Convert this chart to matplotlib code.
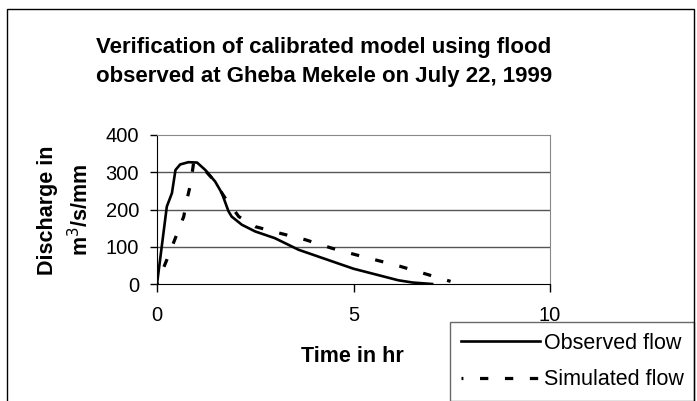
import matplotlib
matplotlib.use("Agg")
import matplotlib.pyplot as plt
import matplotlib.patches as patches

plt.rcParams['font.family'] = ['Liberation Sans', 'DejaVu Sans']

# observed hydrograph (hr, m3/s/mm)
obs_t = [0, 0.25, 0.38, 0.47, 0.59, 0.8, 1.02, 1.23, 1.48, 1.65, 1.82, 1.9, 2.16, 2.5, 3.0, 3.6, 4.45, 5.0, 6.14, 6.5, 7.0]
obs_q = [0, 208, 244, 306, 321, 327, 326, 306, 275, 244, 195, 181, 159, 141, 123, 92, 61, 41, 10, 4, 0]

# simulated hydrograph
sim_t = [0, 0.25, 0.5, 0.68, 0.76, 0.85, 0.93, 1.06, 1.4, 1.74, 2.08, 2.5, 3.1, 3.77, 4.45, 5.04, 5.55, 6.17, 6.74, 7.47]
sim_q = [0, 65, 132, 181, 226, 266, 324, 324, 284, 230, 181, 154, 137, 119, 96, 79, 65, 48, 30, 7]

x_ticks = [0, 5, 10]
y_ticks = [0, 100, 200, 300, 400]

fig = plt.figure(figsize=(6.97, 4.01), dpi=100)
W, H = 697, 401

# outer chart frame
frame = patches.Rectangle((7 / W, -0.05), (694 - 7) / W, 1.05 - 9 / H,
                          transform=fig.transFigure, fill=False,
                          edgecolor='black', linewidth=1, clip_on=False)
fig.patches.append(frame)

ax = fig.add_axes([157 / W, 1 - 284 / H, (550 - 157) / W, (284 - 135) / H])

ax.plot(obs_t, obs_q, color='black', linewidth=1.9, label='Observed flow')
ax.plot(sim_t, sim_q, color='black', linewidth=2.3, linestyle=(2.0, (2.6, 5.2)),
        label='Simulated flow')

ax.set_xlim(0, 10)
ax.set_ylim(0, 400)
ax.set_xticks(x_ticks)
ax.set_yticks(y_ticks)
for y in y_ticks[1:-1]:
    ax.axhline(y, color='#555555', linewidth=1, zorder=0)

ax.spines['top'].set_color('#888888')
ax.spines['right'].set_color('#888888')
ax.spines['left'].set_color('black')
ax.spines['bottom'].set_color('black')
ax.tick_params(axis='x', direction='out', length=6, width=1, pad=10, labelsize=14.5)
ax.tick_params(axis='y', direction='out', length=5, width=1, pad=8, labelsize=14.5)

fig.text(352 / W, 1 - 357 / H, 'Time in hr', ha='center', va='center',
         fontsize=15.5, fontweight='bold')
fig.text(48 / W, 1 - 210 / H, 'Discharge in', rotation=90, ha='center', va='center',
         fontsize=15.5, fontweight='bold')
fig.text(81 / W, 1 - 210 / H, 'm$^{3}$/s/mm', rotation=90, ha='center', va='center',
         fontsize=15.5, fontweight='bold')

fig.text(324 / W, 1 - 53 / H, 'Verification of calibrated model using flood',
         ha='center', va='baseline', fontsize=16, fontweight='bold')
fig.text(324 / W, 1 - 82 / H, 'observed at Gheba Mekele on July 22, 1999',
         ha='center', va='baseline', fontsize=16, fontweight='bold')

leg = ax.legend(loc='upper left', bbox_to_anchor=(450 / W, 1 - 322 / H),
                bbox_transform=fig.transFigure, fontsize=15.5, frameon=True,
                fancybox=False, handlelength=3.7, handletextpad=0.15,
                borderpad=0.5, labelspacing=0.72, borderaxespad=0)
leg.get_frame().set_edgecolor('#444444')
leg.get_frame().set_linewidth(1)

fig.savefig('out.png', dpi=100)
